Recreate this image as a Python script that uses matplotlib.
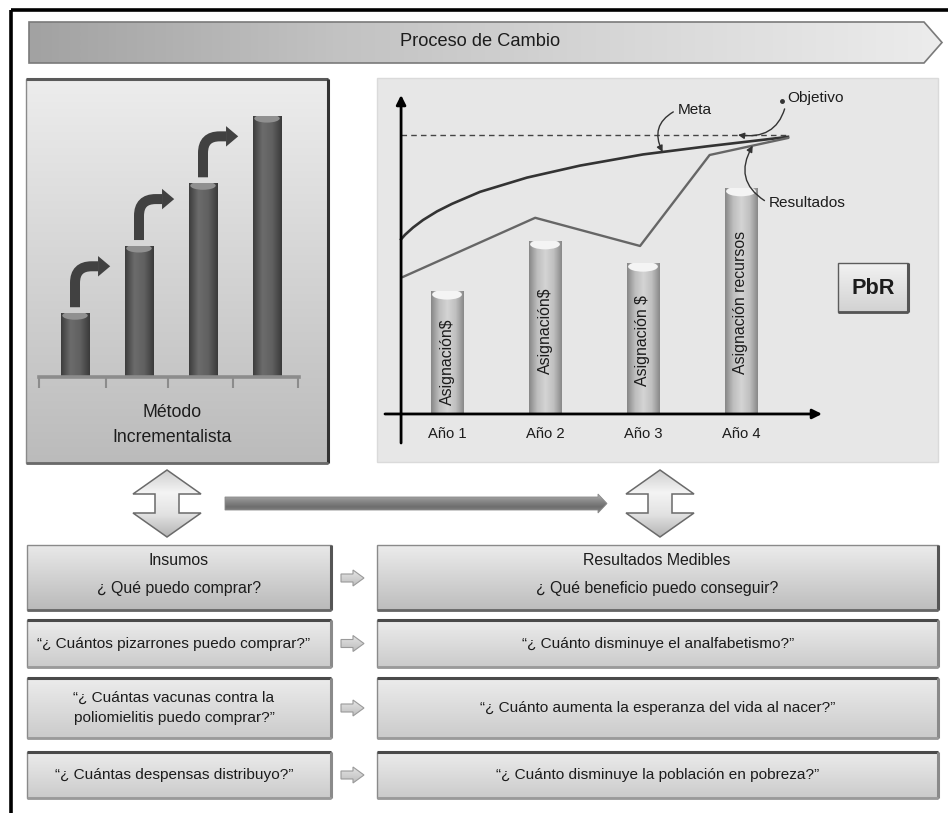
import numpy as np
import matplotlib
matplotlib.use('Agg')
import matplotlib.pyplot as plt
from matplotlib import font_manager
from matplotlib.colors import LinearSegmentedColormap
from matplotlib.patches import Rectangle, Polygon, Ellipse, PathPatch
from matplotlib.path import Path

# incremental method (left panel)
inc_steps = [1, 2, 3, 4]
inc_heights = [1.0, 2.05, 3.03, 4.08]

# results based budgeting (right panel)
years = [1, 2, 3, 4]
year_labels = ['Año 1', 'Año 2', 'Año 3', 'Año 4']
asignacion = [44, 62, 54, 81]
asig_labels = ['Asignación$', 'Asignación$', 'Asignación $', 'Asignación recursos']
asig_text_y = [18.6, 29.7, 26.2, 40.0]

meta_x = [0.531, 0.571, 0.653, 0.755, 0.898, 1.051, 1.337, 1.816, 2.357,
          2.663, 3.0, 3.653, 4.19, 4.48]
meta_y = [62.6, 64.2, 66.8, 69.5, 72.6, 75.3, 79.6, 84.7, 89.0,
          90.9, 93.0, 95.9, 98.1, 99.3]
res_x = [0.55, 1.90, 2.97, 3.68, 4.48]
res_y = [49.1, 70.3, 60.2, 92.8, 98.9]
objetivo = 100

insumos = ['“¿ Cuántos pizarrones puedo comprar?”',
           '“¿ Cuántas vacunas contra la\npoliomielitis puedo comprar?”',
           '“¿ Cuántas despensas distribuyo?”']
medibles = ['“¿ Cuánto disminuye el analfabetismo?”',
            '“¿ Cuánto aumenta la esperanza del vida al nacer?”',
            '“¿ Cuánto disminuye la población en pobreza?”']

names = {f.name for f in font_manager.fontManager.ttflist}
if 'Liberation Sans Narrow' in names:
    FONT, K = 'Liberation Sans Narrow', 1.0
else:
    FONT, K = 'Liberation Sans', 0.82
TXT = '#1c1c1c'

W, H = 948, 813
fig = plt.figure(figsize=(W / 100, H / 100), dpi=100)
bg = fig.add_axes([0, 0, 1, 1])
bg.set_xlim(0, W)
bg.set_ylim(H, 0)
bg.set_autoscale_on(False)
bg.axis('off')


def shade(ax, patch, extent, colors, horizontal=False, z=1):
    cmap = LinearSegmentedColormap.from_list('', colors)
    g = np.linspace(0, 1, 256)
    arr = g[None, :] if horizontal else g[:, None]
    patch.set_zorder(z + 0.1)
    ax.add_patch(patch)
    im = ax.imshow(arr, cmap=cmap, extent=extent, aspect='auto',
                   origin='upper', zorder=z, interpolation='bilinear')
    im.set_clip_path(patch)
    return im


def box(x0, y0, x1, y1, c_top, c_bot, edge='#777777', top=None, side=None, bottom=None):
    r = Rectangle((x0, y0), x1 - x0, y1 - y0, fc='none', ec=edge, lw=1.0)
    shade(bg, r, (x0, x1, y1, y0), [c_top, c_bot], z=1)
    if top:
        bg.plot([x0, x1], [y0, y0], color=top, lw=2.2, zorder=3, solid_capstyle='butt')
    if side:
        bg.plot([x1, x1], [y0, y1], color=side, lw=2.2, zorder=3, solid_capstyle='butt')
    if bottom:
        bg.plot([x0, x1], [y1, y1], color=bottom, lw=2.0, zorder=3, solid_capstyle='butt')


def label(x, y, s, size, **kw):
    kw.setdefault('color', TXT)
    bg.text(x, y, s, ha='center', va='center', fontsize=size * K,
            family=FONT, zorder=5, **kw)


def px_axes(x0, y0, x1, y1):
    a = fig.add_axes([x0 / W, 1 - y1 / H, (x1 - x0) / W, (y1 - y0) / H])
    a.patch.set_visible(False)
    a.set_zorder(2)
    return a


# outer frame
bg.plot([11, 11], [H, 10], color='black', lw=2.6, solid_capstyle='butt', zorder=6)
bg.plot([11, W], [10, 10], color='black', lw=2.6, solid_capstyle='butt', zorder=6)

# banner
banner = Polygon([(29, 22), (924, 22), (942, 42.5), (924, 63), (29, 63)],
                 closed=True, fc='none', ec='#7a7a7a', lw=1.2)
shade(bg, banner, (29, 942, 63, 22), ['#a2a2a2', '#c2c2c2', '#d8d8d8', '#ececec'],
      horizontal=True)
label(480, 42, 'Proceso de Cambio', 16)

# left panel
box(26, 79, 328, 463, '#ededed', '#bbbbbb', edge='#8a8a8a',
    top='#5a5a5a', side='#333333', bottom='#6a6a6a')
label(172, 412, 'Método', 15.5)
label(172, 437, 'Incrementalista', 15.5)

# right panel
bg.add_patch(Rectangle((377, 78), 938 - 377, 462 - 78, fc='#e7e7e7',
                       ec='#dadada', lw=1, zorder=1))

# PbR box
box(838, 263, 908, 312, '#f2f2f2', '#d2d2d2', edge='#5c5c5c', side='#555555', bottom='#555555')
bg.text(873, 288, 'PbR', ha='center', va='center', fontsize=19 * K,
        family=FONT, weight='bold', color=TXT, zorder=5)


def double_arrow(cx, y0=470, y1=537, hh=24, hw=34, sw=12):
    pts = [(cx, y0), (cx + hw, y0 + hh), (cx + sw, y0 + hh), (cx + sw, y1 - hh),
           (cx + hw, y1 - hh), (cx, y1), (cx - hw, y1 - hh), (cx - sw, y1 - hh),
           (cx - sw, y0 + hh), (cx - hw, y0 + hh)]
    p = Polygon(pts, closed=True, fc='none', ec='#6a6a6a', lw=1.1)
    shade(bg, p, (cx - hw, cx + hw, y1, y0),
          ['#cfcfcf', '#f4f4f4', '#e2e2e2', '#b4b4b4'], z=1)


double_arrow(167)
double_arrow(660)

# long horizontal arrow
harrow = Polygon([(225, 497), (598, 497), (598, 494), (607, 503.5), (598, 513),
                  (598, 510), (225, 510)], closed=True, fc='none', ec='#8a8a8a', lw=0.6)
shade(bg, harrow, (225, 607, 513, 494), ['#b4b4b4', '#8c8c8c', '#6e6e6e', '#8a8a8a'])


def small_arrow(cx, cy):
    pts = [(cx - 11, cy - 4), (cx + 1, cy - 4), (cx + 1, cy - 8), (cx + 12, cy),
           (cx + 1, cy + 8), (cx + 1, cy + 4), (cx - 11, cy + 4)]
    p = Polygon(pts, closed=True, fc='none', ec='#9a9a9a', lw=0.8)
    shade(bg, p, (cx - 11, cx + 12, cy + 8, cy - 8), ['#e6e6e6', '#bdbdbd'])


# header boxes
box(27, 545, 331, 610, '#e9e9e9', '#bababa', edge='#8a8a8a', side='#555555', bottom='#666666')
box(377, 545, 938, 610, '#ececec', '#bdbdbd', edge='#8a8a8a', side='#555555', bottom='#666666')
small_arrow(352, 578)
label(179, 560, 'Insumos', 14)
label(179, 588, '¿ Qué puedo comprar?', 14)
label(657, 560, 'Resultados Medibles', 14)
label(657, 588, '¿ Qué beneficio puedo conseguir?', 14)

# question rows
rows = [(620, 667), (678, 738), (752, 798)]
for (y0, y1), left_q, right_q in zip(rows, insumos, medibles):
    box(27, y0, 331, y1, '#ececec', '#cbcbcb', edge='#8a8a8a',
        top='#4a4a4a', side='#8a8a8a', bottom='#9a9a9a')
    box(377, y0, 938, y1, '#ececec', '#cbcbcb', edge='#8a8a8a',
        top='#4a4a4a', side='#8a8a8a', bottom='#9a9a9a')
    yc = (y0 + y1) / 2
    small_arrow(352, yc)
    label(174, yc, left_q, 13.5, linespacing=1.6)
    label(658, yc, right_q, 13.5)

# ---- incremental bar chart ----
axL = px_axes(39, 100, 299, 377)
for s in ('top', 'left', 'right'):
    axL.spines[s].set_visible(False)
axL.spines['bottom'].set_color('#8c8c8c')
axL.spines['bottom'].set_linewidth(2.6)
axL.set_xticks([0.44, 1.48, 2.45, 3.47, 4.49])
axL.tick_params(axis='x', direction='out', length=8, width=1.5, color='#8c8c8c',
                labelbottom=False)
axL.set_yticks([])

bars = axL.bar(inc_steps, inc_heights, width=0.44, color='none', zorder=2)
for b in bars:
    x, w, h = b.get_x(), b.get_width(), b.get_height()
    im = axL.imshow(np.linspace(0, 1, 256)[None, :],
                    cmap=LinearSegmentedColormap.from_list('', ['#3c3c3c', '#6c6c6c', '#606060', '#3a3a3a']),
                    extent=(x, x + w, 0, h), aspect='auto', zorder=2, interpolation='bilinear')
    im.set_clip_path(b)
    cap = Ellipse((x + w / 2, h - 0.04), w * 0.9, 0.13, fc='#909090', ec='none', zorder=3)
    axL.add_patch(cap)
    cap.set_clip_path(b)

# step arrows between the bars
for xc, top in zip(inc_steps[:-1], inc_heights[:-1]):
    y_start, y_turn, r = top + 0.09, top + 0.73, 0.26
    x_end = xc + 0.36
    verts = [(xc, y_start), (xc, y_turn - r), (xc, y_turn), (xc + r, y_turn), (x_end, y_turn)]
    codes = [Path.MOVETO, Path.LINETO, Path.CURVE3, Path.CURVE3, Path.LINETO]
    axL.add_patch(PathPatch(Path(verts, codes), fc='none', ec='#414141', lw=7.2,
                            capstyle='butt', zorder=3))
    axL.add_patch(Polygon([(x_end, y_turn + 0.16), (x_end + 0.19, y_turn),
                           (x_end, y_turn - 0.16)], closed=True, fc='#414141',
                          ec='none', zorder=3))
axL.set_xlim(0.4375, 4.5)
axL.set_ylim(0, 4.328)

# ---- results chart ----
axR = px_axes(385, 95, 822, 443)
axR.axis('off')

rbars = axR.bar(years, asignacion, width=0.33, color='none', zorder=2)
for b, txt, ty in zip(rbars, asig_labels, asig_text_y):
    x, w, h = b.get_x(), b.get_width(), b.get_height()
    im = axR.imshow(np.linspace(0, 1, 256)[None, :],
                    cmap=LinearSegmentedColormap.from_list('', ['#868686', '#bebebe', '#d4d4d4', '#c0c0c0', '#888888']),
                    extent=(x, x + w, 0, h), aspect='auto', zorder=2, interpolation='bilinear')
    im.set_clip_path(b)
    cap = Ellipse((x + w / 2, h - 1.2), w * 0.92, 3.6, fc='#f4f4f4', ec='none', zorder=3)
    axR.add_patch(cap)
    cap.set_clip_path(b)
    axR.text(x + w / 2, ty, txt, rotation=90, ha='center', va='center',
             fontsize=14 * K, family=FONT, color=TXT, zorder=4)

axR.plot([meta_x[0], meta_x[-1]], [objetivo, objetivo], ls=(0, (4, 3)), lw=1,
         color='#444444', zorder=3)
axR.plot(meta_x, meta_y, color='#333333', lw=1.9, zorder=4, solid_joinstyle='round')
axR.plot(res_x, res_y, color='#666666', lw=1.7, zorder=4, solid_joinstyle='round')

axR.set_xlim(0.367, 4.827)
axR.set_ylim(-10.4, 114.3)
arrow_kw = dict(arrowstyle='-|>', lw=2, color='black', mutation_scale=14,
                shrinkA=0, shrinkB=0)
axR.annotate('', xy=(0.531, 114.3), xytext=(0.531, -10.4), arrowprops=arrow_kw,
             annotation_clip=False, zorder=5)
axR.annotate('', xy=(4.827, 0), xytext=(0.367, 0), arrowprops=arrow_kw,
             annotation_clip=False, zorder=5)

for x, lab in zip(years, year_labels):
    axR.text(x, -7, lab, ha='center', va='center', fontsize=13 * K, family=FONT, color=TXT)

lead = dict(arrowstyle='-|>', lw=1, color='#333333', mutation_scale=9,
            shrinkA=1, shrinkB=0, relpos=(0, 0.5))
meta_at = 3.2
axR.annotate('Meta', xy=(meta_at, np.interp(meta_at, meta_x, meta_y)), xytext=(3.35, 109),
             ha='left', va='center', fontsize=13.5 * K, family=FONT, color=TXT,
             arrowprops=dict(lead, connectionstyle='arc3,rad=0.5'), zorder=5)
axR.annotate('Objetivo', xy=(3.97, objetivo), xytext=(4.47, 113.3),
             ha='left', va='center', fontsize=13.5 * K, family=FONT, color=TXT,
             arrowprops=dict(lead, connectionstyle='arc3,rad=-0.5'), zorder=5)
axR.plot([4.42], [112], 'o', ms=2.5, color='#333333', zorder=5)
res_at = 4.12
axR.annotate('Resultados', xy=(res_at, np.interp(res_at, res_x, res_y)), xytext=(4.28, 75.6),
             ha='left', va='center', fontsize=13.5 * K, family=FONT, color=TXT,
             arrowprops=dict(lead, connectionstyle='arc3,rad=-0.5'), zorder=5)

fig.savefig('out.png', dpi=100, facecolor='white')
